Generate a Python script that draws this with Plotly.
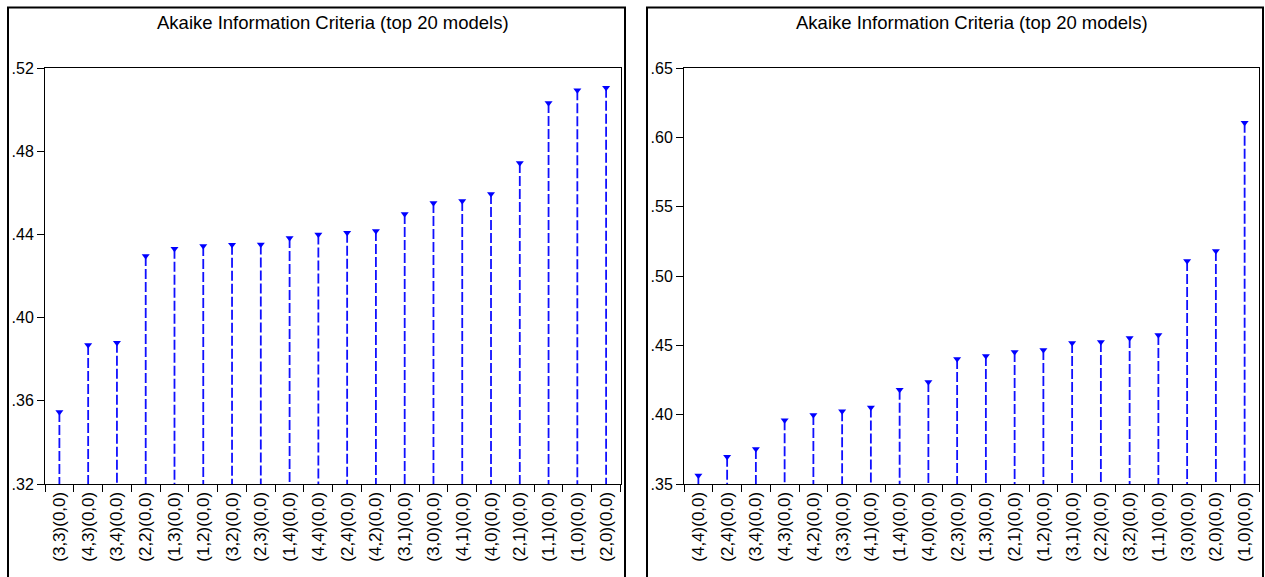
import plotly.graph_objects as go

# ---------------- data ----------------
title_text = "Akaike Information Criteria (top 20 models)"

left_models = ["(3,3)(0,0)", "(4,3)(0,0)", "(3,4)(0,0)", "(2,2)(0,0)", "(1,3)(0,0)",
               "(1,2)(0,0)", "(3,2)(0,0)", "(2,3)(0,0)", "(1,4)(0,0)", "(4,4)(0,0)",
               "(2,4)(0,0)", "(4,2)(0,0)", "(3,1)(0,0)", "(3,0)(0,0)", "(4,1)(0,0)",
               "(4,0)(0,0)", "(2,1)(0,0)", "(1,1)(0,0)", "(1,0)(0,0)", "(2,0)(0,0)"]
left_aic = [0.3546, 0.3868, 0.3879, 0.4296, 0.4331, 0.4344, 0.4350, 0.4352, 0.4383, 0.4399,
            0.4408, 0.4416, 0.4498, 0.4551, 0.4560, 0.4594, 0.4743, 0.5032, 0.5093, 0.5105]
left_ticks = [0.32, 0.36, 0.40, 0.44, 0.48, 0.52]

right_models = ["(4,4)(0,0)", "(2,4)(0,0)", "(3,4)(0,0)", "(4,3)(0,0)", "(4,2)(0,0)",
                "(3,3)(0,0)", "(4,1)(0,0)", "(1,4)(0,0)", "(4,0)(0,0)", "(2,3)(0,0)",
                "(1,3)(0,0)", "(2,1)(0,0)", "(1,2)(0,0)", "(3,1)(0,0)", "(2,2)(0,0)",
                "(3,2)(0,0)", "(1,1)(0,0)", "(3,0)(0,0)", "(2,0)(0,0)", "(1,0)(0,0)"]
right_aic = [0.3562, 0.3696, 0.3752, 0.3960, 0.3997, 0.4024, 0.4052, 0.4180, 0.4236, 0.4402,
             0.4423, 0.4452, 0.4466, 0.4517, 0.4524, 0.4553, 0.4575, 0.5108, 0.5181, 0.6106]
right_ticks = [0.35, 0.40, 0.45, 0.50, 0.55, 0.60, 0.65]

# ---------------- figure ----------------
W, H = 1265, 577
FONT = "Liberation Sans, Arial, sans-serif"
STEM = "#1010ff"
MARK = "#0000ff"


def px_x(p):
    return p / W


def px_y(p):
    return (H - p) / H


fig = go.Figure()


def add_panel(models, values, ticks, xa, ya):
    base = ticks[0]
    sx, sy = [], []
    for m, v in zip(models, values):
        sx += [m, m, None]
        sy += [v, base, None]
    fig.add_trace(go.Scatter(x=sx, y=sy, mode="lines", xaxis=xa, yaxis=ya,
                             line=dict(color=STEM, width=1.8, dash="10px,3px"),
                             hoverinfo="skip", showlegend=False))
    fig.add_trace(go.Scatter(x=models, y=values, mode="markers", xaxis=xa, yaxis=ya,
                             marker=dict(symbol="triangle-down", size=7, color=MARK,
                                         line=dict(width=0)),
                             showlegend=False))


add_panel(left_models, left_aic, left_ticks, "x", "y")
add_panel(right_models, right_aic, right_ticks, "x2", "y2")

ydom = [px_y(484), px_y(68)]

xcommon = dict(type="category", showgrid=False, zeroline=False, showline=True,
               mirror=True, linecolor="#000000", linewidth=1, ticks="outside",
               tickson="boundaries", ticklen=7, tickcolor="#000000", tickwidth=1,
               tickangle=-90, automargin=False,
               tickfont=dict(family=FONT, size=17, color="#000000"))
ycommon = dict(showgrid=False, zeroline=False, showline=True, mirror=True,
               linecolor="#000000", linewidth=1, ticks="outside", ticklen=7,
               tickcolor="#000000", tickwidth=1, automargin=False,
               tickfont=dict(family=FONT, size=16, color="#000000"))

fig.update_layout(
    width=W, height=H,
    margin=dict(l=0, r=0, t=0, b=0),
    paper_bgcolor="white", plot_bgcolor="white",
    xaxis=dict(domain=[px_x(45), px_x(620.5)], anchor="y",
               range=[-0.5, len(left_models) - 0.5],
               categoryorder="array", categoryarray=left_models, **xcommon),
    yaxis=dict(domain=ydom, anchor="x", range=[left_ticks[0], left_ticks[-1]],
               tickvals=left_ticks,
               ticktext=[f"{t:.2f}"[1:] for t in left_ticks], **ycommon),
    xaxis2=dict(domain=[px_x(684), px_x(1259)], anchor="y2",
                range=[-0.5, len(right_models) - 0.5],
                categoryorder="array", categoryarray=right_models, **xcommon),
    yaxis2=dict(domain=ydom, anchor="x2", range=[right_ticks[0], right_ticks[-1]],
                tickvals=right_ticks,
                ticktext=[f"{t:.2f}"[1:] for t in right_ticks], **ycommon),
    showlegend=False,
)

# outer frames of the two panels
for x0, x1 in [(8, 625), (647, 1263)]:
    fig.add_shape(type="rect", xref="paper", yref="paper",
                  x0=px_x(x0), x1=px_x(x1), y0=-0.05, y1=px_y(7.5),
                  line=dict(color="#000000", width=2), fillcolor="rgba(0,0,0,0)")

# titles
for xc in [(45 + 620.5) / 2, (684 + 1259) / 2]:
    fig.add_annotation(text=title_text, xref="paper", yref="paper",
                       x=px_x(xc), y=px_y(22), xanchor="center", yanchor="middle",
                       showarrow=False,
                       font=dict(family=FONT, size=18.5, color="#000000"))

fig.write_html("out.html", config={"displayModeBar": False},
               post_script="document.body.style.margin='0';document.body.style.overflow='hidden';")
